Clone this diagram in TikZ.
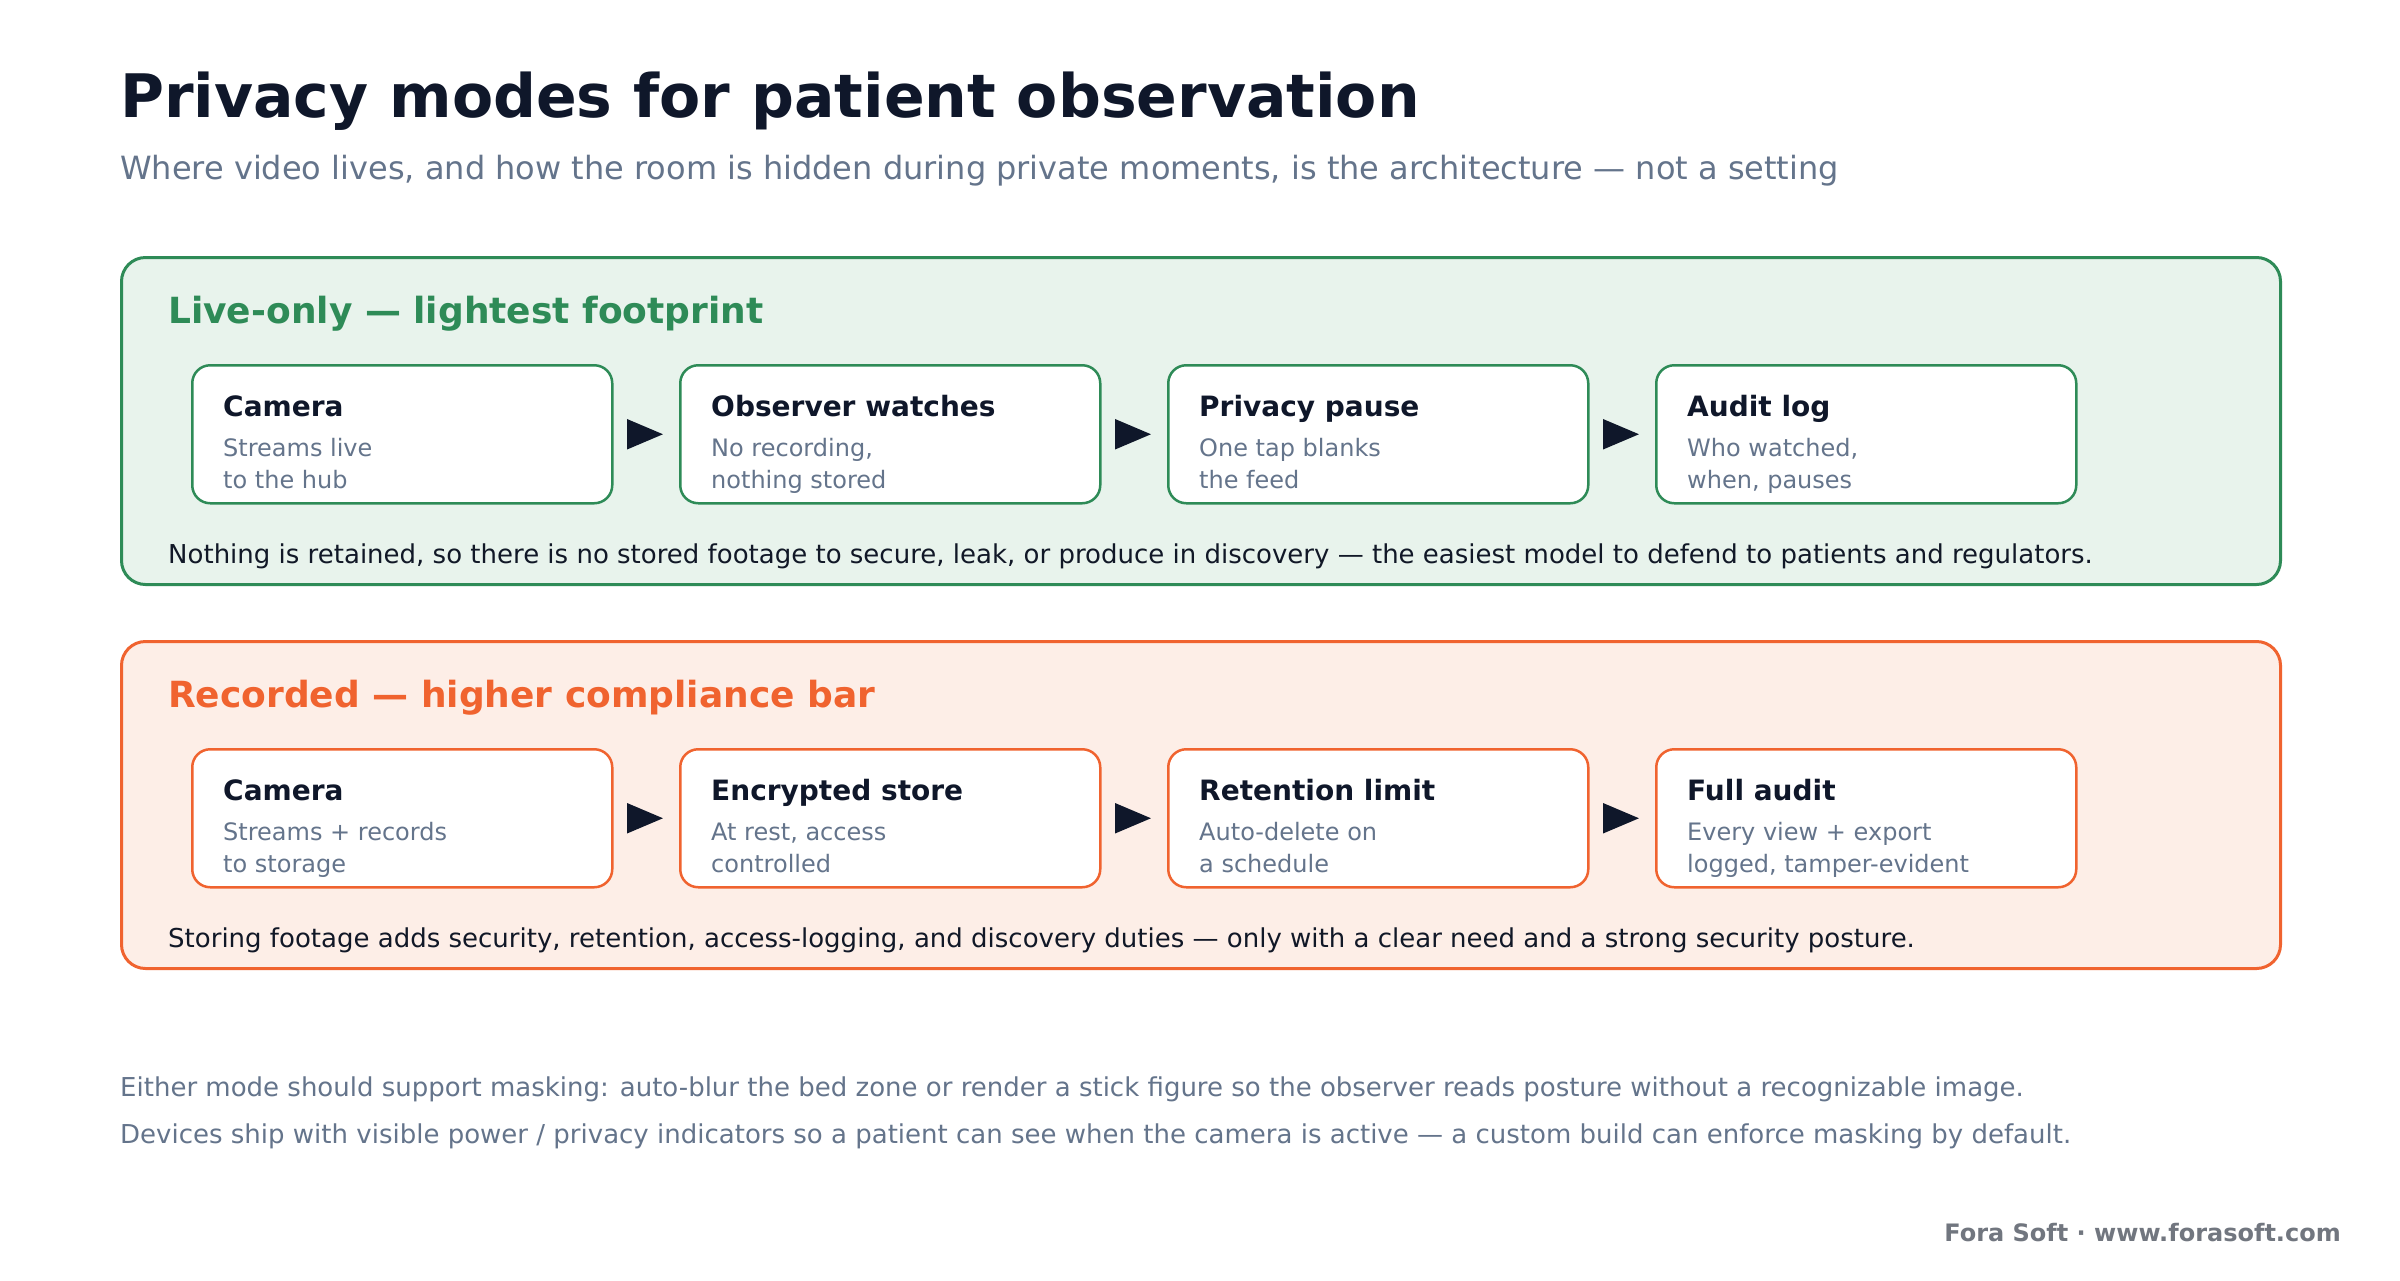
\documentclass[tikz,border=0pt]{standalone}
\usepackage{fontspec}
\setmainfont{DejaVu Sans}
\usetikzlibrary{calc,arrows.meta}
\definecolor{ink}{HTML}{0F172A}
\definecolor{slate}{HTML}{64748B}
\definecolor{grn}{HTML}{2E8B57}
\definecolor{grnfill}{HTML}{E8F3EC}
\definecolor{org}{HTML}{F0632F}
\definecolor{orgfill}{HTML}{FDEEE7}
\definecolor{foot}{HTML}{71767F}
\definecolor{note}{HTML}{111827}
\tikzset{
  txt/.style={inner sep=0pt, anchor=base west},
  panel/.style={draw=#1, line width=3pt, rounded corners=24pt, inner sep=0pt, anchor=north west},
  card/.style={draw=#1, fill=white, line width=2.5pt, rounded corners=18pt, inner sep=0pt,
    anchor=north west, minimum width=420pt, minimum height=138pt},
  cardtitle/.style={txt, text=ink, font=\bfseries\fontsize{28}{34}\selectfont},
  cardsub/.style={txt, text=slate, font=\fontsize{24}{30}\selectfont},
  flowarrow/.style={draw=#1, line width=2pt, shorten <=16pt, shorten >=16pt,
    -{Triangle[length=36pt,width=30pt,fill=ink,color=ink]}},
}
\newcommand\flowcard[7]{%
  \node[card=#7] (#1) at (#2,#3) {};
  \node[cardtitle] (#1t) at ($(#1.north west)+(32,52)$) {#4};
  \node[cardsub] (#1s) at ($(#1.north west)+(32,92)$) {#5};
  \node[cardsub] (#1u) at ($(#1.north west)+(32,124)$) {#6};
}
\begin{document}
\begin{tikzpicture}[x=1pt,y=-1pt]
\useasboundingbox[fill=white] (0,0) rectangle (2400,1280);
% title
\node[txt, text=ink, font=\bfseries\fontsize{60}{72}\selectfont] (title) at (120,117) {Privacy modes for patient observation};
\node[txt, text=slate, font=\fontsize{32}{38}\selectfont] (subtitle) at (120,179) {Where video lives, and how the room is hidden during private moments, is the architecture — not a setting};
% live-only panel
\node[panel=grn, fill=grnfill, minimum width=2159pt, minimum height=327pt] (live) at (120,256) {};
\node[txt, text=grn, font=\bfseries\fontsize{36}{42}\selectfont] (liveh) at (168,323) {Live-only — lightest footprint};
\flowcard{la}{191}{364}{Camera}{Streams live}{to the hub}{grn}
\flowcard{lb}{679}{364}{Observer watches}{No recording,}{nothing stored}{grn}
\flowcard{lc}{1167}{364}{Privacy pause}{One tap blanks}{the feed}{grn}
\flowcard{ld}{1655}{364}{Audit log}{Who watched,}{when, pauses}{grn}
\draw[flowarrow=grn] (la.east) -- (lb.west);
\draw[flowarrow=grn] (lb.east) -- (lc.west);
\draw[flowarrow=grn] (lc.east) -- (ld.west);
\node[txt, text=note, font=\fontsize{26}{32}\selectfont] (livenote) at (168,563) {Nothing is retained, so there is no stored footage to secure, leak, or produce in discovery — the easiest model to defend to patients and regulators.};
% recorded panel
\node[panel=org, fill=orgfill, minimum width=2159pt, minimum height=327pt] (rec) at (120,640) {};
\node[txt, text=org, font=\bfseries\fontsize{36}{42}\selectfont] (rech) at (168,707) {Recorded — higher compliance bar};
\flowcard{ra}{191}{748}{Camera}{Streams + records}{to storage}{org}
\flowcard{rb}{679}{748}{Encrypted store}{At rest, access}{controlled}{org}
\flowcard{rc}{1167}{748}{Retention limit}{Auto-delete on}{a schedule}{org}
\flowcard{rd}{1655}{748}{Full audit}{Every view + export}{logged, tamper-evident}{org}
\draw[flowarrow=org] (ra.east) -- (rb.west);
\draw[flowarrow=org] (rb.east) -- (rc.west);
\draw[flowarrow=org] (rc.east) -- (rd.west);
\node[txt, text=note, font=\fontsize{26}{32}\selectfont] (recnote) at (168,947) {Storing footage adds security, retention, access-logging, and discovery duties — only with a clear need and a strong security posture.};
% bottom notes
\node[txt, text=slate, font=\fontsize{26}{32}\selectfont] (n1) at (120,1096) {Either mode should support masking: auto-blur the bed zone or render a stick figure so the observer reads posture without a recognizable image.};
\node[txt, text=slate, font=\fontsize{26}{32}\selectfont] (n2) at (120,1143) {Devices ship with visible power / privacy indicators so a patient can see when the camera is active — a custom build can enforce masking by default.};
\node[inner sep=0pt, anchor=base east, text=foot, font=\bfseries\fontsize{24}{28}\selectfont] (footer) at (2341,1241) {Fora Soft · www.forasoft.com};
\end{tikzpicture}
\end{document}
